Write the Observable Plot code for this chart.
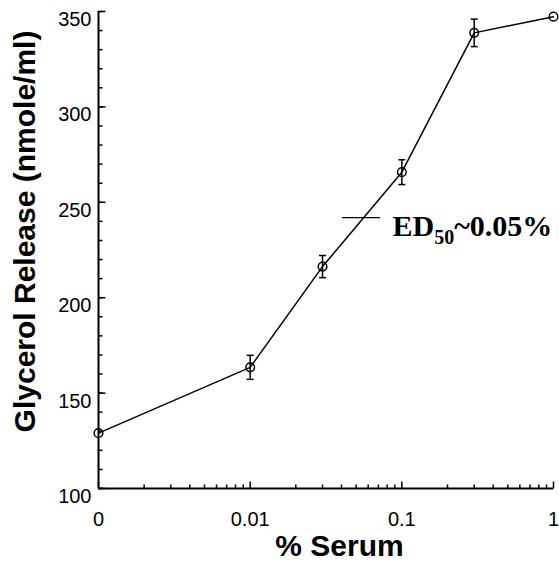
<!DOCTYPE html>
<html>
<head>
<meta charset="utf-8">
<script src="https://cdn.jsdelivr.net/npm/d3@7"></script>
<script src="https://cdn.jsdelivr.net/npm/@observablehq/plot@0.6"></script>
<style>
  html, body { margin: 0; padding: 0; background: #fff; }
  #chart { width: 559px; height: 564px; }
</style>
</head>
<body>
<div id="chart"></div>
<script>
// ---- data ----
const serumPercent = [0, 0.01, 0.03, 0.1, 0.3, 1];
const glycerolRelease = [129, 163.5, 216.3, 265.8, 338.8, 347.3];
const errorSEM = [0, 6.3, 5.8, 6.5, 7.2, 0];

const xTickValues = [0.001, 0.01, 0.1, 1];
const xTickLabels = ["0", "0.01", "0.1", "1"];
const yTickValues = [100, 150, 200, 250, 300, 350];
const yMinorTicks = d3.range(100, 351, 10);
const xMinorTicks = [0.001, 0.01, 0.1].flatMap(b => d3.range(2, 10).map(k => +(b * k).toPrecision(3)));

const ed50Label = "ED50~0.05%";
const ed50Line = [{x1: 0.0406, x2: 0.0723, y: 242}];

const zeroPosition = 0.001; // "0" shown at the left end of the log axis

const rows = serumPercent.map((s, i) => ({
  x: s === 0 ? zeroPosition : s,
  y: glycerolRelease[i],
  lo: glycerolRelease[i] - errorSEM[i],
  hi: glycerolRelease[i] + errorSEM[i],
  e: errorSEM[i]
}));
const errRows = rows.filter(d => d.e > 0);

// custom symbols
const tickRight = L => ({draw(ctx) { ctx.moveTo(0, 0); ctx.lineTo(L, 0); }});
const tickUp = L => ({draw(ctx) { ctx.moveTo(0, 0); ctx.lineTo(0, -L); }});
const capSym = {draw(ctx) { ctx.moveTo(-3.5, 0); ctx.lineTo(3.5, 0); }};

const sans = "'Liberation Sans', Arial, Helvetica, sans-serif";
const serif = "'Liberation Serif', 'Times New Roman', serif";

const chart = Plot.plot({
  width: 559,
  height: 564,
  marginLeft: 98,
  marginRight: 6,
  marginTop: 11,
  marginBottom: 76,
  style: {fontFamily: sans, fontSize: "20px", background: "white", color: "black"},
  x: {type: "log", domain: [0.001, 1]},
  y: {domain: [100, 350]},
  marks: [
    // axis tick labels
    Plot.axisX({ticks: xTickValues, tickFormat: d => xTickLabels[xTickValues.indexOf(d)], tickSize: 0, tickPadding: 23, fontSize: 20, label: null, fontFamily: sans}),
    Plot.axisY({ticks: yTickValues, tickFormat: d => String(d), tickSize: 0, tickPadding: 7, fontSize: 20, dy: 8, label: null, fontFamily: sans}),
    // inward ticks
    Plot.dot(yMinorTicks, {y: d => d, frameAnchor: "left", symbol: tickRight(4), fill: "none", stroke: "black", strokeWidth: 1.5}),
    Plot.dot(yTickValues, {y: d => d, frameAnchor: "left", symbol: tickRight(7), fill: "none", stroke: "black", strokeWidth: 1.5}),
    Plot.dot(xMinorTicks, {x: d => d, frameAnchor: "bottom", symbol: tickUp(4), fill: "none", stroke: "black", strokeWidth: 1.5}),
    Plot.dot(xTickValues, {x: d => d, frameAnchor: "bottom", symbol: tickUp(7), fill: "none", stroke: "black", strokeWidth: 1.5}),
    // axis lines
    Plot.ruleX([0.001], {stroke: "black", strokeWidth: 2}),
    Plot.ruleY([100], {stroke: "black", strokeWidth: 2}),
    // error bars
    Plot.ruleX(errRows, {x: "x", y1: "lo", y2: "hi", stroke: "black", strokeWidth: 1.5}),
    Plot.dot(errRows, {x: "x", y: "lo", symbol: capSym, fill: "none", stroke: "black", strokeWidth: 1.5}),
    Plot.dot(errRows, {x: "x", y: "hi", symbol: capSym, fill: "none", stroke: "black", strokeWidth: 1.5}),
    // line and points
    Plot.line(rows, {x: "x", y: "y", stroke: "black", strokeWidth: 1.5}),
    Plot.dot(rows, {x: "x", y: "y", r: 4.3, fill: "none", stroke: "black", strokeWidth: 1.5}),
    // ED50 annotation
    Plot.ruleY(ed50Line, {y: "y", x1: "x1", x2: "x2", stroke: "black", strokeWidth: 1.2}),
    Plot.text(ed50Line, {x: "x2", y: "y", text: () => ed50Label, dx: 12, dy: 18, lineAnchor: "bottom", textAnchor: "start", fontFamily: serif, fontWeight: "bold", fontSize: 30, fill: "black"}),
    // axis titles
    Plot.text(["Glycerol Release (nmole/ml)"], {frameAnchor: "left", textAnchor: "middle", lineAnchor: "middle", rotate: -90, dx: -73.6, dy: -18.5, fontSize: 30, fontWeight: "bold", fontFamily: sans, fill: "black"}),
    Plot.text(["% Serum"], {frameAnchor: "bottom", textAnchor: "middle", lineAnchor: "middle", dx: 13.5, dy: 57.4, fontSize: 30, fontWeight: "bold", fontFamily: sans, fill: "black"})
  ]
});

// subscript for ED50
d3.select(chart).selectAll("text").each(function() {
  if (this.textContent === ed50Label) {
    const t = d3.select(this);
    t.text(null);
    t.append("tspan").text("ED");
    t.append("tspan").attr("font-size", 20).attr("dy", 8).text("50");
    t.append("tspan").attr("dy", -8).text("~0.05%");
  }
});

document.getElementById("chart").appendChild(chart);
</script>
</body>
</html>
